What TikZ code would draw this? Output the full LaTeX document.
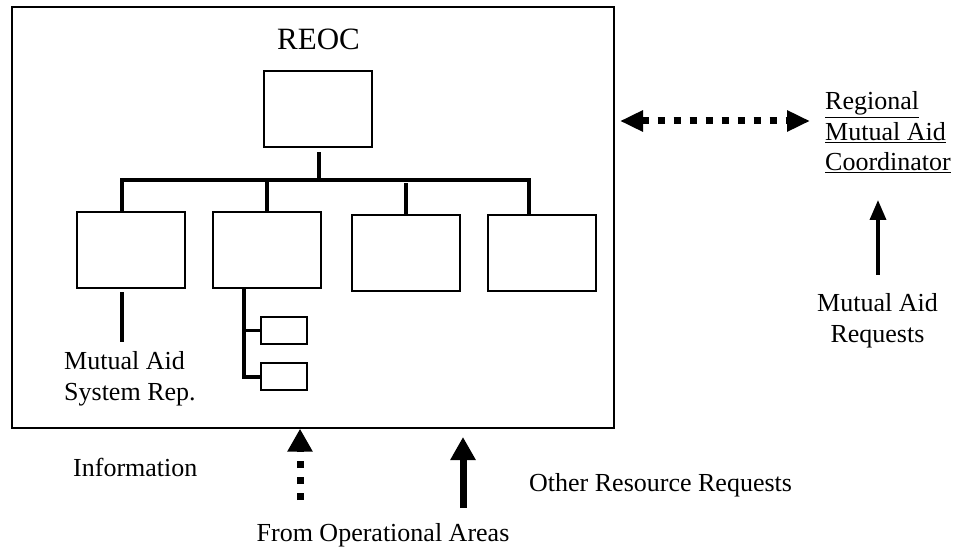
\documentclass[tikz,border=0pt]{standalone}
\usepackage{fontspec}
\setmainfont{Liberation Serif}
\usetikzlibrary{arrows.meta}
\tikzset{
  box/.style={draw, line width=2pt, inner sep=0pt, minimum width=108pt, minimum height=76pt},
  smallbox/.style={draw, line width=2pt, inner sep=0pt, minimum width=46pt, minimum height=27pt},
  conn/.style={line width=3.7pt},
  lbl/.style={inner sep=0pt, font=\fontsize{26}{31}\selectfont},
  squaredots/.style={line cap=butt, dash pattern=on 7pt off 9pt},
}
\begin{document}
\begin{tikzpicture}[x=1pt,y=-1pt]
\useasboundingbox (0,0) rectangle (967,548);
% outer REOC frame
\node[draw, line width=2pt, inner sep=0pt, minimum width=602pt, minimum height=421pt] (outer) at (313.3,217.2) {};
\node[lbl, anchor=base, font=\fontsize{31}{36}\selectfont] (reoc) at (318.5,50) {REOC};
% boxes
\node[box] (top) at (317.7,109.2) {};
\node[box] (b1) at (130.8,250.5) {};
\node[box] (b2) at (266.7,250.5) {};
\node[box] (b3) at (405.7,253) {};
\node[box] (b4) at (541.7,253) {};
\node[smallbox] (s1) at (284.2,330.5) {};
\node[smallbox] (s2) at (284.2,376.7) {};
% bar
\coordinate (barL) at (121.7,180);
\coordinate (barR) at (529.3,180);
\draw[conn, line cap=rect] (barL) -- (barR);
\draw[conn, shorten <=4pt] (top.south -| 319,0) -- (319,0 |- barL);
\draw[conn] (barL) -- (barL |- b1.north);
\draw[conn] (b2.north |- barL) -- (b2.north);
\draw[conn, shorten >=3pt] (b3.north) -- (b3.north |- barL);
\draw[conn] (barR) -- (barR |- b4.north);
% below box 1
\coordinate (mar) at (121.7,341.7);
\draw[conn, shorten <=3pt] (b1.south -| barL) -- (mar);
\node[lbl, anchor=base west, align=left] (mutual) at (64,400) {Mutual Aid\\System Rep.};
% box 2 stem
\coordinate (stem) at (244.3,289);
\draw[conn] (stem) |- (s2.west);
\draw[conn] (stem |- s1.west) -- (s1.west);
% right side
\coordinate (la) at (620,121);
\coordinate (ra) at (810,121);
\draw[line width=7pt, squaredots, {Triangle[length=23pt,width=20pt]}-{Triangle[length=23pt,width=20pt]}] (la) -- (ra);
\node[lbl, anchor=base west, align=left, font=\fontsize{26}{30.5}\selectfont] (rmac) at (825,171) {\underline{Regional}\\\underline{Mutual Aid}\\\underline{Coordinator}};
\coordinate (mrb) at (878,275);
\coordinate (mrt) at (878,200);
\draw[line width=3.5pt, -{Triangle[length=20pt,width=16pt]}] (mrb) -- (mrt);
\node[lbl, anchor=base, align=center] (mar2) at (877.5,342) {Mutual Aid\\Requests};
% bottom
\coordinate (ib) at (300,500);
\draw[line width=7pt, squaredots, -{Triangle[length=23pt,width=24pt]}] (ib) -- (outer.south -| ib);
\coordinate (ob) at (463,508);
\coordinate (ot) at (463,437);
\draw[line width=7pt, -{Triangle[length=23pt,width=24pt]}] (ob) -- (ot);
\node[lbl, anchor=base west] (info) at (73,476) {Information};
\node[lbl, anchor=base west] (other) at (529,491) {Other Resource Requests};
\node[lbl, anchor=base] (from) at (383,541) {From Operational Areas};
\end{tikzpicture}
\end{document}
